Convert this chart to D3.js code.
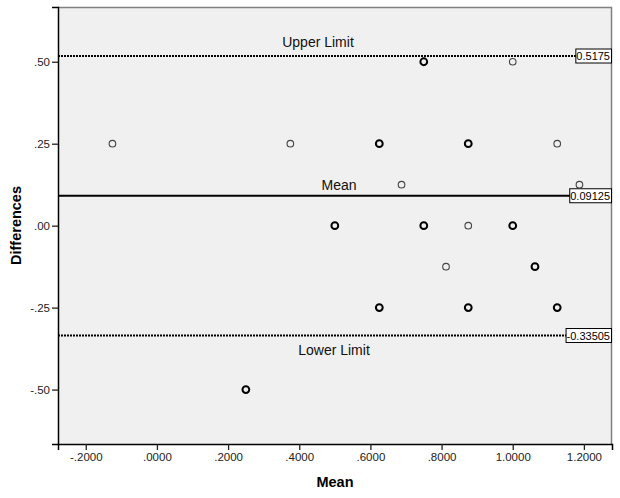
<!DOCTYPE html>
<html>
<head>
<meta charset="utf-8">
<script src="https://cdn.jsdelivr.net/npm/d3@7.9.0/dist/d3.min.js"></script>
<style>
  body { margin: 0; background: #fff; }
  svg { display: block; font-family: "Liberation Sans", Arial, sans-serif; }
  .tick text { fill: #222; }
</style>
</head>
<body>
<svg id="chart" width="620" height="498"></svg>
<script>
// Bland-Altman plot data (mean of the two measures vs their difference)
const meanVals = [-0.125, 0.375, 0.625, 0.875, 1.125, 0.75, 1.0, 0.6875, 1.1875,
                  0.5, 0.75, 0.875, 1.0, 0.8125, 1.0625, 0.625, 0.875, 1.125, 0.25];
const diffVals = [0.25, 0.25, 0.25, 0.25, 0.25, 0.5, 0.5, 0.125, 0.125,
                  0, 0, 0, 0, -0.125, -0.125, -0.25, -0.25, -0.25, -0.5];
// how many cases sit on the same spot (overlaps draw darker)
const counts   = [1, 1, 2, 2, 1, 2, 1, 1, 1,
                  2, 2, 1, 2, 1, 2, 2, 2, 2, 2];

const refLines = [
  { name: 'Upper Limit', value: 0.5175,   label: '0.5175',   dotted: true },
  { name: 'Mean',        value: 0.09125,  label: '0.09125',  dotted: false },
  { name: 'Lower Limit', value: -0.33505, label: '-0.33505', dotted: true }
];

const xTicks = [-0.2, 0, 0.2, 0.4, 0.6, 0.8, 1.0, 1.2];
const yTicks = [-0.5, -0.25, 0, 0.25, 0.5];

const points = meanVals.map((m, i) => ({ mean: m, diff: diffVals[i], n: counts[i] }));

const margin = { top: 7, right: 8, bottom: 54, left: 58 };
const width = 620, height = 498;

const svg = d3.select('#chart');

const x = d3.scaleLinear()
  .domain([-0.278, 1.279])
  .range([margin.left, width - margin.right]);

const y = d3.scaleLinear()
  .domain([-0.666, 0.667])
  .range([height - margin.bottom, margin.top]);

// SPSS style: plain hyphen and no leading zero
const locale = d3.formatLocale({ decimal: '.', thousands: ',', grouping: [3], currency: ['', ''], minus: '-' });
const stripZero = s => s.replace(/^(-?)0\./, '$1.');

// plot background
svg.append('rect')
  .attr('x', x.range()[0]).attr('y', y.range()[1])
  .attr('width', x.range()[1] - x.range()[0])
  .attr('height', y.range()[0] - y.range()[1])
  .attr('fill', '#f0f0f0')
  .attr('stroke', 'none');

// top and right frame (grey)
svg.append('path')
  .attr('d', `M${x.range()[0]},${y.range()[1] + 0.5}H${x.range()[1] - 0.5}V${y.range()[0]}`)
  .attr('fill', 'none')
  .attr('stroke', '#808080')
  .attr('stroke-width', 1.5);

// axes
const xAxis = svg.append('g')
  .attr('transform', `translate(0,${y.range()[0]})`)
  .call(d3.axisBottom(x).tickValues(xTicks).tickSize(6).tickPadding(3)
    .tickFormat(d => stripZero(locale.format('.4f')(d))));

const yAxis = svg.append('g')
  .attr('transform', `translate(${x.range()[0]},0)`)
  .call(d3.axisLeft(y).tickValues(yTicks).tickSize(6).tickPadding(2)
    .tickFormat(d => stripZero(locale.format('.2f')(d))));

[xAxis, yAxis].forEach(g => {
  g.selectAll('text').style('font-size', '11.5px').attr('font-family', null);
  g.select('.domain').attr('stroke', '#000').attr('stroke-width', 1.5);
  g.selectAll('.tick line').attr('stroke', '#222').attr('stroke-width', 1.3);
});

// reference lines
const refG = svg.append('g');
refLines.forEach(r => {
  refG.append('line')
    .attr('x1', x.range()[0]).attr('x2', x.range()[1])
    .attr('y1', y(r.value)).attr('y2', y(r.value))
    .attr('stroke', '#000')
    .attr('stroke-width', r.dotted ? 2 : 2.2)
    .attr('stroke-dasharray', r.dotted ? '2,1' : null);
});

// line names
const nameOffsets = { 'Upper Limit': [318, -9], 'Mean': [339, -6], 'Lower Limit': [334, 19] };
refLines.forEach(r => {
  const [cx, dy] = nameOffsets[r.name];
  svg.append('text')
    .attr('x', cx)
    .attr('y', y(r.value) + dy)
    .attr('text-anchor', 'middle')
    .style('font-size', '14px')
    .attr('fill', '#111')
    .text(r.name);
});

// value boxes at the right edge
refLines.forEach(r => {
  const g = svg.append('g');
  const t = g.append('text')
    .attr('y', y(r.value) + 4)
    .style('font-size', '11px')
    .attr('fill', '#000')
    .text(r.label);
  const w = t.node().getComputedTextLength() + 2;
  const bx = x.range()[1] - w - 1;
  t.attr('x', bx + 1);
  g.insert('rect', 'text')
    .attr('x', bx + 0.5).attr('y', y(r.value) - 7)
    .attr('width', w).attr('height', 14)
    .attr('fill', '#fff')
    .attr('stroke', '#000')
    .attr('stroke-width', 1);
});

// points
svg.append('g')
  .selectAll('circle')
  .data(points)
  .join('circle')
  .attr('cx', d => x(d.mean))
  .attr('cy', d => y(d.diff))
  .attr('r', d => d.n > 1 ? 3.4 : 3.3)
  .attr('fill', 'none')
  .attr('stroke', d => d.n > 1 ? '#000' : '#444')
  .attr('stroke-width', d => d.n > 1 ? 2 : 1.1);

// axis titles
svg.append('text')
  .attr('x', 335).attr('y', 487)
  .attr('text-anchor', 'middle')
  .style('font-size', '14.5px')
  .style('font-weight', 'bold')
  .text('Mean');

svg.append('text')
  .attr('transform', `translate(21,${(y.range()[0] + y.range()[1]) / 2}) rotate(-90)`)
  .attr('text-anchor', 'middle')
  .style('font-size', '14.5px')
  .style('font-weight', 'bold')
  .text('Differences');
</script>
</body>
</html>
